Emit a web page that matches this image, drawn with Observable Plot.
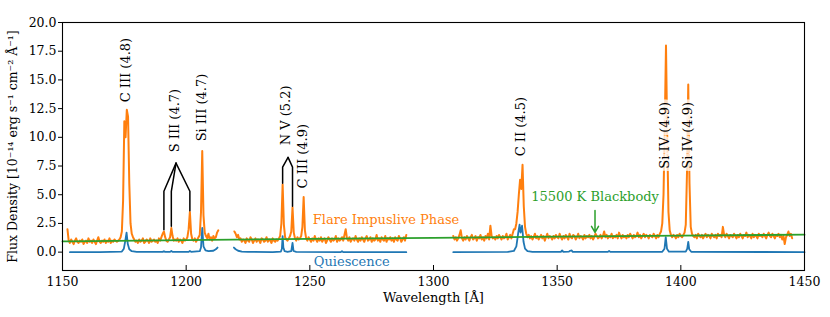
<!DOCTYPE html>
<html><head><meta charset="utf-8">
<script src="https://cdn.jsdelivr.net/npm/d3@7"></script>
<script src="https://cdn.jsdelivr.net/npm/@observablehq/plot@0.6"></script>
<style>html,body{margin:0;padding:0;background:#fff;overflow:hidden;}</style>
</head><body><div id="chart"></div>
<script>
// ---------- tick labels ----------
const xTicks = [1150, 1200, 1250, 1300, 1350, 1400, 1450];
const yTicks = [0, 2.5, 5, 7.5, 10, 12.5, 15, 17.5, 20];

// ---------- flare impulsive phase spectrum (0.5 Å sampling, three detector segments) ----------
const flareStart = [1152.0, 1219.5, 1308.0];
const flareStep = 0.5;
const flareSeg1 = [
  2.0, 1.0, 0.8, 1.1, 0.9, 0.7, 1.0, 1.2, 0.9, 0.8,
  1.0, 0.9, 1.1, 0.7, 0.9, 1.0, 0.8, 1.2, 0.9, 1.0,
  0.8, 1.1, 0.9, 0.7, 1.0, 1.3, 0.9, 0.8, 1.0, 0.9,
  1.1, 0.8, 1.0, 0.9, 1.2, 0.8, 1.0, 0.9, 1.1, 1.0,
  0.9, 1.0, 1.1, 1.3, 1.8, 4.5, 11.4, 10.0, 12.4, 11.8,
  6.0, 2.5, 1.6, 1.3, 1.1, 0.9, 1.0, 0.8, 1.1, 0.9,
  1.0, 1.2, 0.8, 0.9, 1.1, 1.0, 0.8, 1.2, 0.9, 1.0,
  1.1, 0.9, 1.0, 0.8, 1.2, 1.0, 1.3, 1.6, 1.8, 1.3,
  1.0, 0.9, 1.1, 1.3, 2.1, 1.4, 1.0, 1.1, 1.0, 1.2,
  0.9, 1.1, 1.0, 0.8, 1.2, 1.0, 1.1, 1.3, 2.0, 3.5,
  1.6, 1.1, 1.0, 1.2, 0.9, 1.1, 1.3, 1.5, 3.5, 8.8,
  3.2, 1.7, 1.4, 1.2, 1.6, 1.1, 1.3, 1.0, 1.4, 1.2,
  1.3, 1.7, 1.9
];
const flareSeg2 = [
  1.8, 1.6, 1.3, 1.5, 1.1, 1.2, 0.9, 1.1, 1.0, 0.8,
  1.2, 1.0, 0.9, 1.3, 1.1, 0.8, 1.0, 1.2, 0.9, 1.1,
  1.0, 0.8, 1.2, 1.1, 0.9, 1.0, 1.3, 0.9, 1.1, 1.0,
  0.8, 1.2, 1.0, 0.9, 1.1, 1.0, 1.2, 1.4, 2.5, 5.9,
  2.4, 1.3, 1.1, 1.0, 1.2, 1.4, 1.8, 3.9, 1.7, 1.2,
  1.0, 1.3, 1.1, 1.2, 1.4, 2.2, 4.8, 1.9, 1.2, 1.0,
  1.3, 1.1, 0.9, 1.2, 1.0, 1.4, 1.1, 0.9, 1.2, 1.0,
  1.3, 0.9, 1.1, 1.2, 0.8, 1.0, 1.3, 1.1, 0.9, 1.2,
  1.0, 1.1, 1.4, 0.9, 1.2, 1.0, 1.1, 1.3, 1.0, 1.5,
  2.0, 1.2, 1.0, 1.3, 0.9, 1.1, 1.2, 1.0, 1.4, 1.1,
  0.9, 1.2, 1.0, 1.3, 1.1, 0.9, 1.2, 1.4, 1.0, 1.1,
  1.3, 0.9, 1.2, 1.0, 1.1, 1.5, 1.0, 1.2, 0.9, 1.3,
  1.1, 1.0, 1.4, 0.9, 1.2, 1.1, 1.3, 1.0, 1.2, 0.9,
  1.3, 1.1, 1.0, 1.4, 1.2, 0.9, 1.1, 1.3, 1.0, 1.5
];
const flareSeg3 = [
  1.4, 1.1, 1.3, 1.0, 1.2, 1.5, 1.9, 1.2, 1.0, 1.3,
  1.1, 1.4, 1.2, 1.0, 1.3, 1.5, 1.1, 1.2, 1.4, 1.0,
  1.3, 1.2, 1.5, 1.1, 1.3, 1.0, 1.4, 1.2, 1.6, 1.1,
  2.3, 1.4, 1.2, 1.3, 1.1, 1.4, 1.2, 1.5, 1.3, 1.1,
  1.4, 1.2, 1.3, 1.6, 1.1, 1.3, 1.5, 1.2, 1.6, 2.0,
  2.0, 2.5, 3.5, 5.0, 6.3, 5.5, 7.6, 4.0, 2.2, 1.6,
  1.3, 1.5, 1.2, 1.4, 1.1, 1.3, 1.6, 1.2, 1.4, 1.1,
  1.3, 1.5, 1.2, 1.4, 1.0, 1.3, 1.6, 1.2, 1.4, 1.3,
  1.1, 1.4, 1.2, 1.5, 1.3, 1.2, 1.6, 1.3, 1.1, 1.4,
  1.2, 1.5, 1.3, 1.1, 1.6, 1.3, 1.2, 1.5, 1.4, 1.1,
  1.3, 1.6, 1.2, 1.4, 1.3, 1.1, 1.5, 1.2, 1.4, 1.3,
  1.5, 1.2, 1.4, 1.1, 1.3, 1.6, 1.4, 1.2, 1.3, 1.5,
  1.2, 1.4, 1.8, 1.3, 1.5, 1.2, 1.4, 1.3, 1.6, 1.2,
  1.4, 1.3, 1.5, 1.2, 1.7, 1.4, 1.2, 1.5, 1.3, 1.4,
  1.2, 1.5, 1.3, 1.6, 1.4, 1.2, 1.5, 1.3, 1.4, 1.7,
  1.3, 1.5, 1.2, 1.4, 1.6, 1.3, 1.5, 1.4, 1.2, 1.5,
  1.4, 1.3, 1.6, 1.4, 1.2, 1.5, 1.3, 1.6, 1.8, 2.5,
  5.0, 11.0, 18.0, 10.0, 3.5, 1.9, 1.5, 1.3, 1.5, 1.4,
  1.2, 1.5, 1.3, 1.6, 1.4, 1.3, 1.5, 1.7, 2.4, 7.0,
  14.6, 6.0, 2.2, 1.6, 1.4, 1.3, 1.5, 1.2, 1.6, 1.4,
  1.3, 1.5, 1.2, 1.4, 1.6, 1.3, 1.5, 1.4, 1.2, 1.6,
  1.4, 1.3, 1.5, 1.2, 1.6, 1.4, 1.5, 1.3, 2.2, 1.5,
  1.3, 1.6, 1.4, 1.2, 1.5, 1.4, 1.3, 1.6, 1.4, 1.2,
  1.5, 1.3, 1.6, 1.4, 1.2, 1.5, 1.4, 1.7, 1.3, 1.5,
  1.4, 1.2, 1.6, 1.3, 1.5, 1.4, 1.2, 1.6, 1.4, 1.5,
  1.3, 1.6, 1.4, 1.2, 1.5, 1.7, 1.4, 1.3, 1.6, 1.4,
  1.2, 1.5, 1.4, 1.6, 1.3, 1.5, 1.1, 1.4, 0.7, 1.3,
  1.5, 1.8, 1.4, 1.6, 1.2
];

// ---------- quiescent spectrum ----------
const quietWave1 = [1153, 1165, 1174.0, 1174.8, 1175.4, 1175.9, 1176.4, 1177.0, 1178.0, 1180,
  1190.5, 1191.0, 1191.5, 1193.5, 1194.0, 1194.5, 1201.0, 1201.5, 1202.0, 1205.5,
  1206.0, 1206.5, 1207.0, 1207.8, 1209.0, 1211.0, 1212.0, 1212.7];
const quietFlux1 = [0.0, 0.0, 0.05, 0.3, 1.0, 1.7, 0.7, 0.25, 0.08, 0.02,
  0.02, 0.08, 0.02, 0.02, 0.1, 0.02, 0.02, 0.1, 0.03, 0.08,
  0.4, 2.1, 0.5, 0.15, 0.08, 0.12, 0.25, 0.4];
const quietWave2 = [1219.3, 1220.0, 1221.0, 1222.5, 1225, 1235, 1238.3, 1238.7, 1239.0, 1239.3,
  1239.8, 1241.0, 1242.5, 1243.0, 1243.4, 1244.5, 1262.5, 1263.0, 1263.5, 1289.0];
const quietFlux2 = [0.4, 0.25, 0.12, 0.05, 0.02, 0.0, 0.05, 0.3, 1.4, 0.4,
  0.08, 0.02, 0.08, 0.8, 0.1, 0.02, 0.0, 0.08, 0.0, 0.0];
const quietWave3 = [1308, 1330, 1332.5, 1333.5, 1334.2, 1334.8, 1335.2, 1335.8, 1336.4, 1337.0,
  1338.0, 1340, 1351.5, 1352.0, 1352.5, 1354.8, 1355.3, 1355.8, 1356.3, 1370.5,
  1371.0, 1371.5, 1392.5, 1393.4, 1393.9, 1394.4, 1395.2, 1402.0, 1402.6, 1403.0,
  1403.4, 1404.2, 1450];
const quietFlux3 = [0.0, 0.02, 0.1, 0.5, 1.6, 2.4, 1.7, 2.3, 0.9, 0.3,
  0.08, 0.02, 0.02, 0.15, 0.02, 0.05, 0.12, 0.15, 0.02, 0.02,
  0.1, 0.02, 0.03, 0.3, 1.3, 0.3, 0.04, 0.04, 0.3, 0.9,
  0.25, 0.03, 0.0];

// ---------- 15500 K blackbody ----------
const bbWave = [1150, 1200, 1250, 1300, 1350, 1400, 1450];
const bbFlux = [0.93, 1.05, 1.15, 1.25, 1.35, 1.44, 1.52];

// ---------- line identifications ----------
const lineText = ["C III (4.8)", "S III (4.7)", "Si III (4.7)", "N V (5.2)", "C III (4.9)", "C II (4.5)"];
const lineX = [1175.6, 1195.3, 1206.45, 1240.4, 1247.3, 1335.3];
const lineY = [13.05, 8.7, 9.65, 9.3, 5.55, 8.35];
const siText = ["Si IV (4.9)", "Si IV (4.9)"];
const siX = [1393.7, 1402.7];
const siY = [7.27, 7.27];

// bracket leaders: id, wavelength, flux
const bracketId = [0,0,0, 1,1,1, 2,2,2, 3,3,3, 4,4,4];
const bracketX = [1191.0,1191.0,1195.9, 1194.0,1194.0,1195.9, 1201.5,1201.5,1195.9,
                  1239.0,1239.0,1241.2, 1243.0,1243.0,1241.2];
const bracketY = [1.95,5.3,7.75, 2.25,5.3,7.75, 3.6,5.3,7.75,
                  6.0,7.4,8.25, 4.0,7.4,8.25];

// legend-like annotations
const noteText = ["Flare Impuslive Phase", "Quiescence"];
const noteX = [1251.2, 1251.6];
const noteY = [2.84, -0.86];
const bbLabel = ["15500 K Blackbody"];
const bbLabelX = [1365.3];
const bbLabelY = [4.79];
const bbArrowX = [1365.3];
const bbArrowY1 = [3.62];
const bbArrowY2 = [1.72];

const ORANGE = "#ff7f0e", BLUE = "#1f77b4", GREEN = "#2ca02c";

// ---------- build tables ----------
const flare = [];
[flareSeg1, flareSeg2, flareSeg3].forEach((seg, s) =>
  seg.forEach((v, i) => flare.push({seg: s, w: flareStart[s] + flareStep * i, f: v})));
const quiet = [];
[[quietWave1, quietFlux1], [quietWave2, quietFlux2], [quietWave3, quietFlux3]].forEach(([ws, fs], s) =>
  ws.forEach((w, i) => quiet.push({seg: s, w, f: fs[i]})));
const bb = bbWave.map((w, i) => ({w, f: bbFlux[i]}));
const lines = lineText.map((t, i) => ({t, w: lineX[i], f: lineY[i]}));
const siLines = siText.map((t, i) => ({t, w: siX[i], f: siY[i]}));
const brackets = bracketId.map((id, i) => ({id, w: bracketX[i], f: bracketY[i]}));
const notes = noteText.map((t, i) => ({t, w: noteX[i], f: noteY[i], c: i === 0 ? ORANGE : BLUE}));

const W = 830, H = 317, mT = 22, mB = 47, mL = 62, mR = 26;

const chart = Plot.plot({
  width: W, height: H,
  marginTop: mT, marginBottom: mB, marginLeft: mL, marginRight: mR,
  style: {fontFamily: "DejaVu Serif", fontSize: "12.5px", color: "black", background: "white"},
  x: {domain: [1150, 1450]},
  y: {domain: [-1.6, 20]},
  marks: [
    Plot.line(flare, {x: "w", y: "f", z: "seg", stroke: ORANGE, strokeWidth: 2}),
    Plot.line(quiet, {x: "w", y: "f", z: "seg", stroke: BLUE, strokeWidth: 1.8}),
    Plot.line(bb, {x: "w", y: "f", stroke: GREEN, strokeWidth: 1.8, curve: "natural"}),
    Plot.line(brackets, {x: "w", y: "f", z: "id", stroke: "black", strokeWidth: 1.5}),
    Plot.text(lines, {x: "w", y: "f", text: "t", rotate: -90, textAnchor: "start", fontSize: 13, fill: "black"}),
    Plot.text(siLines, {x: "w", y: "f", text: "t", rotate: -90, textAnchor: "start", fontSize: 13, fill: "black",
      stroke: "white", strokeOpacity: 0.75, strokeWidth: 7}),
    Plot.text(notes, {x: "w", y: "f", text: "t", fill: "c", textAnchor: "start", fontSize: 13}),
    Plot.text(bbLabel, {x: bbLabelX, y: bbLabelY, text: d => d, fill: GREEN, textAnchor: "middle", fontSize: 13}),
    Plot.arrow(bbArrowX, {x1: bbArrowX, x2: bbArrowX, y1: bbArrowY1, y2: bbArrowY2, stroke: GREEN, strokeWidth: 1.5, headLength: 7}),
    Plot.frame({stroke: "black", strokeWidth: 1.1}),
    Plot.tickX(xTicks, {x: d => d, stroke: "black", strokeWidth: 1, insetTop: H - mT - mB - 5}),
    Plot.axisX({ticks: xTicks, tickSize: 0, tickPadding: 7, tickFormat: d => String(d), label: null}),
    Plot.axisY({ticks: yTicks, tickSize: 4, tickPadding: 2, tickFormat: d3.format(".1f"), label: null}),
    Plot.text(["Wavelength [Å]"], {frameAnchor: "bottom", dy: 31, fontSize: 13, fill: "black"}),
    Plot.text(["Flux Density [10⁻¹⁴ erg s⁻¹ cm⁻² Å⁻¹]"], {frameAnchor: "left", textAnchor: "middle", dx: -50, rotate: -90, fontSize: 12.5, fill: "black"})
  ]
});
document.getElementById("chart").appendChild(chart);
</script>
</body></html>
